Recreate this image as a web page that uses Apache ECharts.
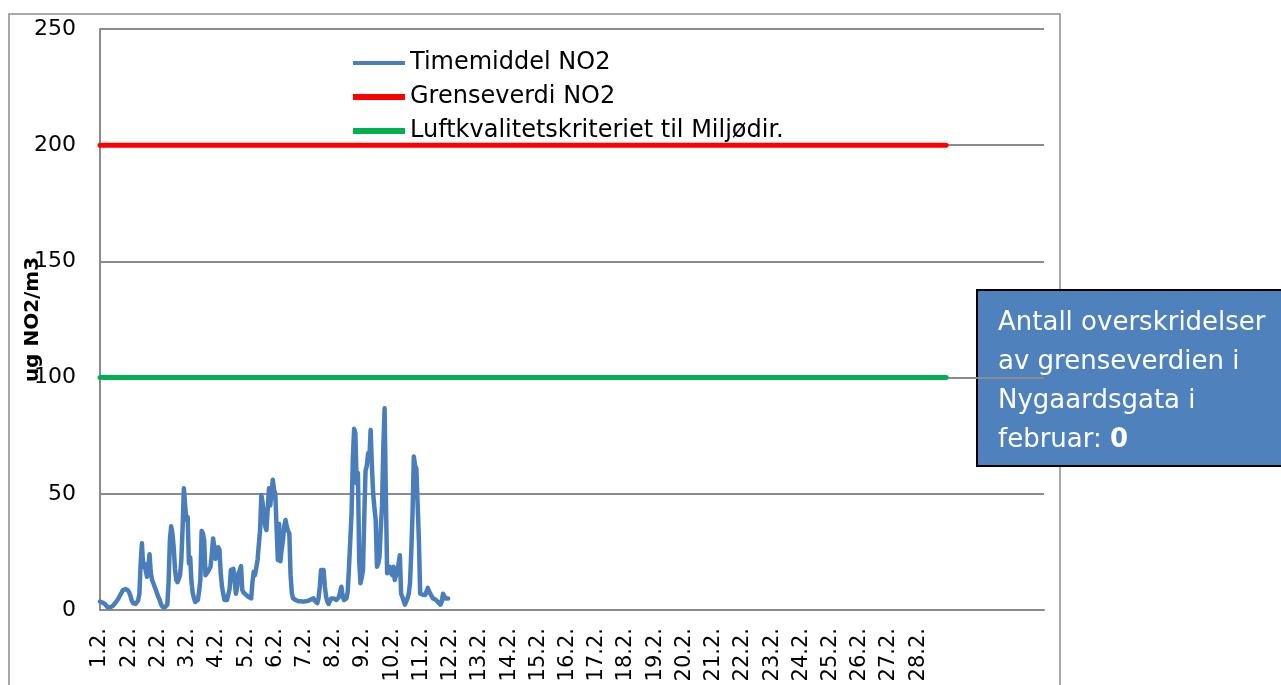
<!DOCTYPE html>
<html>
<head>
<meta charset="utf-8">
<script src="https://cdn.jsdelivr.net/npm/echarts@6/dist/echarts.min.js"></script>
<style>
  html, body { margin: 0; padding: 0; background: #fff; }
  #chart { width: 1281px; height: 685px; }
</style>
</head>
<body>
<div id="chart"></div>
<script>
// x axis: hourly slots, a label every 23 slots (as in the original sheet)
const tickLabels = ["1.2.", "2.2.", "2.2.", "3.2.", "4.2.", "5.2.", "6.2.", "7.2.", "8.2.", "9.2.",
  "10.2.", "11.2.", "12.2.", "13.2.", "14.2.", "15.2.", "16.2.", "17.2.", "18.2.", "19.2.",
  "20.2.", "21.2.", "22.2.", "23.2.", "24.2.", "25.2.", "26.2.", "27.2.", "28.2."];
const labelStep = 23;
const slotCount = 744;
const limitSlots = 667;

// hourly NO2 (ug/m3), Nygaardsgata
const timemiddel = [
  3.6, 3.5, 3.2, 3, 2.5, 1.8, 1.2, 1, 1.2, 1.5, 1.7, 2.5, 3, 3.6, 4.5, 5.5, 6.5, 7.5, 8.6, 9,
  9, 9.2, 8.5, 7.5, 6, 4, 3, 2.7, 2.6, 2.6, 4, 7, 20, 28.7, 18.6, 20, 17, 14.3, 18.6, 24,
  16, 12.9, 11.5, 10, 8.6, 7, 5.5, 4.3, 2.5, 1.5, 1, 1.2, 1.8, 2.3, 12, 30, 36, 33, 27, 18,
  13, 12, 11.5, 15, 21.5, 35, 52.4, 45, 38.7, 40, 20, 22.6, 12, 7.2, 5, 3.5, 3.2, 4.3, 8, 13,
  34, 33, 30, 15, 15.5, 16.5, 17.5, 18.6, 24, 30.8, 27, 22, 25, 27, 26, 16, 10, 7, 4.3, 4.5,
  4.3, 4.3, 9, 17.2, 18, 17.7, 12, 7, 10, 15.8, 17, 18.9, 8.6, 7.5, 7, 6.5, 6, 5.6, 5.3, 5,
  12, 16.5, 15, 14.3, 21.5, 28, 34.4, 49.5, 46, 41, 36, 34.4, 34.7, 52.4, 45, 50, 56, 51.6, 50, 35,
  21.5, 37, 21, 26, 30, 36, 38.7, 36, 34, 33, 15, 7.2, 5, 4.5, 4.3, 4, 3.8, 3.6, 3.8, 4.5,
  3.6, 4.3, 3.8, 4.5, 4, 3.6, 4.5, 3.8, 5, 4, 3.2, 2.9, 5, 10, 17.2, 17.5, 17.2, 10, 5.6, 3.5,
  2.6, 4, 5, 4.5, 5, 4.3, 4.3, 5, 5.5, 6, 10, 6, 4.3, 5, 5, 8, 18.6, 30, 41.6, 65,
  78, 76, 54.5, 59, 21.5, 11.5, 14, 17, 40, 60, 62, 67.4, 65, 77.5, 62, 50, 44, 38.7, 18.6, 20,
  23, 35, 45, 70, 86.8, 48.8, 15.8, 17, 18.6, 16, 15, 18.6, 12.9, 15, 16.5, 20, 23.6, 7, 5.6, 4,
  2.3, 3, 5, 7, 11.5, 25, 41.6, 66, 62, 61, 60.5, 30, 7, 6.8, 6.6, 7, 6.5, 7, 9.5, 8,
  7, 6, 5, 5, 4.5, 4.3, 3.5, 3, 2.3, 3.6, 7, 6, 5, 5, 5
];
const grenseverdi = 200;
const luftkvalitet = 100;

const categories = [];
for (let i = 0; i < slotCount; i++) {
  categories.push(i % labelStep === 0 ? (tickLabels[i / labelStep] || "") : "");
}
const grenseData = new Array(limitSlots).fill(grenseverdi);
const luftData = new Array(limitSlots).fill(luftkvalitet);

const chart = echarts.init(document.getElementById("chart"), null, { renderer: "canvas" });

const FONT = "DejaVu Sans";
const GRID_COLOR = "#8c8c8c";
const BLUE = "#4a7ebb";
const RED = "#ff0000";
const GREEN = "#00b050";

chart.setOption({
  animation: false,
  textStyle: { fontFamily: FONT, color: "#000" },
  grid: { left: 100, top: 29, right: 237, bottom: 75, containLabel: false, outerBoundsMode: "none" },
  legend: {
    orient: "vertical",
    left: 353,
    top: 51,
    padding: 0,
    itemWidth: 52,
    itemHeight: 14,
    itemGap: 10,
    symbolKeepAspect: true,
    textStyle: { fontFamily: FONT, fontSize: 24, lineHeight: 24, color: "#000" },
    data: [
      { name: "Timemiddel NO2", icon: "path://M0,0H52V4H0Z" },
      { name: "Grenseverdi NO2", icon: "path://M0,0H52V6H0Z" },
      { name: "Luftkvalitetskriteriet til Miljødir.", icon: "path://M0,0H52V6H0Z" }
    ]
  },
  xAxis: {
    type: "category",
    data: categories,
    boundaryGap: false,
    axisLine: { show: true, lineStyle: { color: GRID_COLOR, width: 2 } },
    axisTick: { show: false },
    axisLabel: {
      interval: 0,
      rotate: 90,
      margin: 18,
      fontFamily: FONT,
      fontSize: 21,
      color: "#000"
    },
    splitLine: { show: false }
  },
  yAxis: {
    type: "value",
    min: 0,
    max: 250,
    interval: 50,
    name: "ug NO2/m3",
    nameLocation: "middle",
    nameGap: 57,
    nameMoveOverlap: false,
    nameTextStyle: { fontFamily: FONT, fontSize: 20, fontWeight: "bold", color: "#000" },
    axisLine: { show: true, lineStyle: { color: GRID_COLOR, width: 2 } },
    axisTick: { show: false },
    axisLabel: { margin: 24, fontFamily: FONT, fontSize: 22, color: "#000" },
    splitLine: { show: true, lineStyle: { color: GRID_COLOR, width: 2 } }
  },
  series: [
    {
      name: "Timemiddel NO2",
      type: "line",
      data: timemiddel,
      showSymbol: false,
      symbol: "none",
      lineStyle: { color: BLUE, width: 4.5, cap: "round", join: "round" },
      itemStyle: { color: BLUE },
      z: 3
    },
    {
      name: "Grenseverdi NO2",
      type: "line",
      data: grenseData,
      showSymbol: false,
      symbol: "none",
      lineStyle: { color: RED, width: 5, cap: "round" },
      itemStyle: { color: RED },
      z: 2
    },
    {
      name: "Luftkvalitetskriteriet til Miljødir.",
      type: "line",
      data: luftData,
      showSymbol: false,
      symbol: "none",
      lineStyle: { color: GREEN, width: 5, cap: "round" },
      itemStyle: { color: GREEN },
      z: 2
    }
  ],
  graphic: [
    {
      type: "rect",
      shape: { x: 9, y: 14, width: 1051, height: 700 },
      style: { fill: null, stroke: "#8c8c8c", lineWidth: 1.5 },
      silent: true,
      z: -1
    },
    {
      type: "group",
      left: 976,
      top: 289,
      z: 100,
      children: [
        {
          type: "rect",
          shape: { x: 0, y: 0, width: 330, height: 176 },
          style: { fill: "#4f81bd", stroke: "#000", lineWidth: 2 }
        },
        {
          type: "text",
          x: 21,
          y: 14,
          style: {
            text: "Antall overskridelser\nav grenseverdien i\nNygaardsgata i\nfebruar: {b|0}",
            fill: "#fff",
            font: "26px " + FONT,
            lineHeight: 39,
            rich: {
              b: { fill: "#fff", fontWeight: "bold", fontSize: 26, fontFamily: FONT, lineHeight: 39 }
            }
          }
        }
      ]
    }
  ]
});
</script>
</body>
</html>
